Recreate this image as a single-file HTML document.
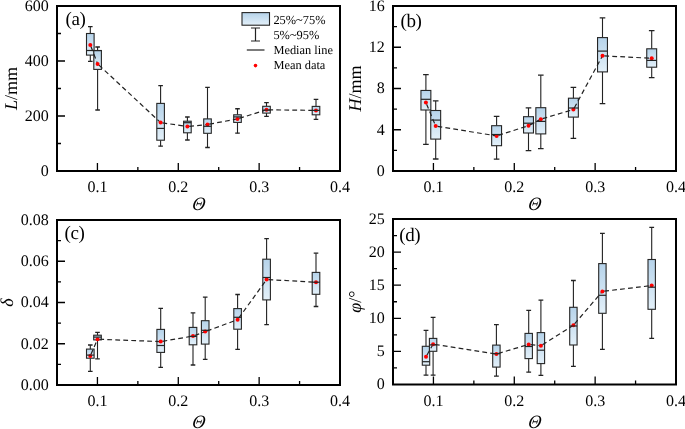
<!DOCTYPE html><html><head><meta charset="utf-8"><style>html,body{margin:0;padding:0;background:#fff;}svg{display:block;font-family:"Liberation Serif",serif;text-rendering:geometricPrecision;will-change:transform;}</style></head><body>
<svg width="685" height="429" viewBox="0 0 685 429">
<defs><linearGradient id="g" x1="0" y1="0" x2="0" y2="1"><stop offset="0" stop-color="#b6d3ea"/><stop offset="1" stop-color="#e3f0f9"/></linearGradient></defs>
<rect width="685" height="429" fill="#fff"/>
<g><path d="M90.3 26.7V33.5M90.3 55.1V61.4" stroke="#222" stroke-width="1.1" fill="none"/><path d="M88 26.7h4.6M88 61.4h4.6" stroke="#222" stroke-width="1.3" fill="none"/><rect x="86.5" y="33.5" width="7.6" height="21.6" fill="url(#g)" stroke="#252525" stroke-width="1.1"/><path d="M97.6 47V50.5M97.6 69.4V110" stroke="#222" stroke-width="1.1" fill="none"/><path d="M95.3 47h4.6M95.3 110h4.6" stroke="#222" stroke-width="1.3" fill="none"/><rect x="93.8" y="50.5" width="7.6" height="18.9" fill="url(#g)" stroke="#252525" stroke-width="1.1"/><path d="M160.6 85.6V103.4M160.6 140.2V146.2" stroke="#222" stroke-width="1.1" fill="none"/><path d="M158.3 85.6h4.6M158.3 146.2h4.6" stroke="#222" stroke-width="1.3" fill="none"/><rect x="156.8" y="103.4" width="7.6" height="36.8" fill="url(#g)" stroke="#252525" stroke-width="1.1"/><path d="M187.4 117V121.2M187.4 132.8V140" stroke="#222" stroke-width="1.1" fill="none"/><path d="M185.1 117h4.6M185.1 140h4.6" stroke="#222" stroke-width="1.3" fill="none"/><rect x="183.6" y="121.2" width="7.6" height="11.6" fill="url(#g)" stroke="#252525" stroke-width="1.1"/><path d="M207.5 87.3V118.9M207.5 133.3V147.5" stroke="#222" stroke-width="1.1" fill="none"/><path d="M205.2 87.3h4.6M205.2 147.5h4.6" stroke="#222" stroke-width="1.3" fill="none"/><rect x="203.7" y="118.9" width="7.6" height="14.4" fill="url(#g)" stroke="#252525" stroke-width="1.1"/><path d="M237.5 108.75V114.8M237.5 122.4V133.2" stroke="#222" stroke-width="1.1" fill="none"/><path d="M235.2 108.75h4.6M235.2 133.2h4.6" stroke="#222" stroke-width="1.3" fill="none"/><rect x="233.7" y="114.8" width="7.6" height="7.6" fill="url(#g)" stroke="#252525" stroke-width="1.1"/><path d="M266.5 102.6V106.3M266.5 113.1V116.3" stroke="#222" stroke-width="1.1" fill="none"/><path d="M264.2 102.6h4.6M264.2 116.3h4.6" stroke="#222" stroke-width="1.3" fill="none"/><rect x="262.7" y="106.3" width="7.6" height="6.8" fill="url(#g)" stroke="#252525" stroke-width="1.1"/><path d="M316 99.4V106.4M316 114.8V119.4" stroke="#222" stroke-width="1.1" fill="none"/><path d="M313.7 99.4h4.6M313.7 119.4h4.6" stroke="#222" stroke-width="1.3" fill="none"/><rect x="312.2" y="106.4" width="7.6" height="8.4" fill="url(#g)" stroke="#252525" stroke-width="1.1"/><path d="M90.95 46.58L97.6 63.9M98.92 65.13L160.6 122.6M162.38 122.86L187.4 126.5M189.19 126.32L207.5 124.5M209.27 124.17L237.5 118.9M239.22 118.36L266.5 109.8M268.3 109.82L316 110.4" fill="none" stroke="#222" stroke-width="1.2" stroke-dasharray="4.8 3.2"/><circle cx="90.3" cy="44.9" r="2" fill="#f00"/><circle cx="97.6" cy="63.9" r="2" fill="#f00"/><circle cx="160.6" cy="122.6" r="2" fill="#f00"/><circle cx="187.4" cy="126.5" r="2" fill="#f00"/><circle cx="207.5" cy="124.5" r="2" fill="#f00"/><circle cx="237.5" cy="118.9" r="2" fill="#f00"/><circle cx="266.5" cy="109.8" r="2" fill="#f00"/><circle cx="316" cy="110.4" r="2" fill="#f00"/><path d="M86.5 50.5h7.6" stroke="#252525" stroke-width="1.2"/><path d="M93.8 50.6h7.6" stroke="#252525" stroke-width="1.2"/><path d="M156.8 128.4h7.6" stroke="#252525" stroke-width="1.2"/><path d="M183.6 122.7h7.6" stroke="#252525" stroke-width="1.2"/><path d="M203.7 126.3h7.6" stroke="#252525" stroke-width="1.2"/><path d="M233.7 116.9h7.6" stroke="#252525" stroke-width="1.2"/><path d="M262.7 110.15h7.6" stroke="#252525" stroke-width="1.2"/><path d="M312.2 110.4h7.6" stroke="#252525" stroke-width="1.2"/><path d="M97.43 171v-8M137.86 171v-4M178.29 171v-8M218.71 171v-4M259.14 171v-8M299.57 171v-4M57 143.5h4M57 116h8M57 88.5h4M57 61h8M57 33.5h4" stroke="#000" stroke-width="1.3" fill="none"/><rect x="57" y="6" width="283" height="165" fill="none" stroke="#000" stroke-width="2"/><text x="97.43" y="192" font-size="16" text-anchor="middle">0.1</text><text x="178.29" y="192" font-size="16" text-anchor="middle">0.2</text><text x="259.14" y="192" font-size="16" text-anchor="middle">0.3</text><text x="340" y="192" font-size="16" text-anchor="middle">0.4</text><text x="48.7" y="175.9" font-size="16" text-anchor="end">0</text><text x="48.7" y="120.9" font-size="16" text-anchor="end">200</text><text x="48.7" y="65.9" font-size="16" text-anchor="end">400</text><text x="48.7" y="10.9" font-size="16" text-anchor="end">600</text><text transform="translate(197.9 210.1) skewX(-9) scale(0.94 1)" font-size="19" font-style="italic" text-anchor="middle">&#920;</text><text transform="translate(16.8 88.5) rotate(-90)" font-size="18" text-anchor="middle"><tspan font-style="italic">L</tspan>/mm</text><text x="65.5" y="25.4" font-size="19" letter-spacing="-0.4">(a)</text></g>
<g><path d="M425.9 74.7V90.45M425.9 110V144.3" stroke="#222" stroke-width="1.1" fill="none"/><path d="M423.1 74.7h5.6M423.1 144.3h5.6" stroke="#222" stroke-width="1.3" fill="none"/><rect x="420.95" y="90.45" width="9.9" height="19.55" fill="url(#g)" stroke="#252525" stroke-width="1.1"/><path d="M435.7 100.9V110.5M435.7 139.1V159" stroke="#222" stroke-width="1.1" fill="none"/><path d="M432.9 100.9h5.6M432.9 159h5.6" stroke="#222" stroke-width="1.3" fill="none"/><rect x="430.75" y="110.5" width="9.9" height="28.6" fill="url(#g)" stroke="#252525" stroke-width="1.1"/><path d="M496.6 116.3V125.7M496.6 145.7V159.2" stroke="#222" stroke-width="1.1" fill="none"/><path d="M493.8 116.3h5.6M493.8 159.2h5.6" stroke="#222" stroke-width="1.3" fill="none"/><rect x="491.65" y="125.7" width="9.9" height="20" fill="url(#g)" stroke="#252525" stroke-width="1.1"/><path d="M528.5 107.9V116.7M528.5 133V150.7" stroke="#222" stroke-width="1.1" fill="none"/><path d="M525.7 107.9h5.6M525.7 150.7h5.6" stroke="#222" stroke-width="1.3" fill="none"/><rect x="523.55" y="116.7" width="9.9" height="16.3" fill="url(#g)" stroke="#252525" stroke-width="1.1"/><path d="M540.8 75.2V107.7M540.8 133.9V148.6" stroke="#222" stroke-width="1.1" fill="none"/><path d="M538 75.2h5.6M538 148.6h5.6" stroke="#222" stroke-width="1.3" fill="none"/><rect x="535.85" y="107.7" width="9.9" height="26.2" fill="url(#g)" stroke="#252525" stroke-width="1.1"/><path d="M573.4 87.3V98.2M573.4 117.1V138.3" stroke="#222" stroke-width="1.1" fill="none"/><path d="M570.6 87.3h5.6M570.6 138.3h5.6" stroke="#222" stroke-width="1.3" fill="none"/><rect x="568.45" y="98.2" width="9.9" height="18.9" fill="url(#g)" stroke="#252525" stroke-width="1.1"/><path d="M602.5 17.9V37.6M602.5 71.9V103.7" stroke="#222" stroke-width="1.1" fill="none"/><path d="M599.7 17.9h5.6M599.7 103.7h5.6" stroke="#222" stroke-width="1.3" fill="none"/><rect x="597.55" y="37.6" width="9.9" height="34.3" fill="url(#g)" stroke="#252525" stroke-width="1.1"/><path d="M651.7 30.6V48.8M651.7 67.2V77.7" stroke="#222" stroke-width="1.1" fill="none"/><path d="M648.9 30.6h5.6M648.9 77.7h5.6" stroke="#222" stroke-width="1.3" fill="none"/><rect x="646.75" y="48.8" width="9.9" height="18.4" fill="url(#g)" stroke="#252525" stroke-width="1.1"/><path d="M426.59 104.16L435.7 126.1M437.48 126.39L496.6 135.9M498.31 135.35L528.5 125.7M530.09 124.86L540.8 119.2M542.53 118.69L573.4 109.5M574.26 107.92L602.5 55.8M604.3 55.89L651.7 58.3" fill="none" stroke="#222" stroke-width="1.2" stroke-dasharray="4.8 3.2"/><circle cx="425.9" cy="102.5" r="2" fill="#f00"/><circle cx="435.7" cy="126.1" r="2" fill="#f00"/><circle cx="496.6" cy="135.9" r="2" fill="#f00"/><circle cx="528.5" cy="125.7" r="2" fill="#f00"/><circle cx="540.8" cy="119.2" r="2" fill="#f00"/><circle cx="573.4" cy="109.5" r="2" fill="#f00"/><circle cx="602.5" cy="55.8" r="2" fill="#f00"/><circle cx="651.7" cy="58.3" r="2" fill="#f00"/><path d="M420.95 99.3h9.9" stroke="#252525" stroke-width="1.2"/><path d="M430.75 120.1h9.9" stroke="#252525" stroke-width="1.2"/><path d="M491.65 134.5h9.9" stroke="#252525" stroke-width="1.2"/><path d="M523.55 123.2h9.9" stroke="#252525" stroke-width="1.2"/><path d="M535.85 121.4h9.9" stroke="#252525" stroke-width="1.2"/><path d="M568.45 108h9.9" stroke="#252525" stroke-width="1.2"/><path d="M597.55 51.1h9.9" stroke="#252525" stroke-width="1.2"/><path d="M646.75 60.4h9.9" stroke="#252525" stroke-width="1.2"/><path d="M433.43 171v-8M473.86 171v-4M514.29 171v-8M554.71 171v-4M595.14 171v-8M635.57 171v-4M393 150.38h4M393 129.75h8M393 109.12h4M393 88.5h8M393 67.88h4M393 47.25h8M393 26.62h4" stroke="#000" stroke-width="1.3" fill="none"/><rect x="393" y="6" width="283" height="165" fill="none" stroke="#000" stroke-width="2"/><text x="433.43" y="192" font-size="16" text-anchor="middle">0.1</text><text x="514.29" y="192" font-size="16" text-anchor="middle">0.2</text><text x="595.14" y="192" font-size="16" text-anchor="middle">0.3</text><text x="676" y="192" font-size="16" text-anchor="middle">0.4</text><text x="384.7" y="175.9" font-size="16" text-anchor="end">0</text><text x="384.7" y="134.65" font-size="16" text-anchor="end">4</text><text x="384.7" y="93.4" font-size="16" text-anchor="end">8</text><text x="384.7" y="52.15" font-size="16" text-anchor="end">12</text><text x="384.7" y="10.9" font-size="16" text-anchor="end">16</text><text transform="translate(533.9 210.1) skewX(-9) scale(0.94 1)" font-size="19" font-style="italic" text-anchor="middle">&#920;</text><text transform="translate(360.9 88.5) rotate(-90)" font-size="18" text-anchor="middle"><tspan font-style="italic">H</tspan>/mm</text><text x="400.5" y="26.6" font-size="19" letter-spacing="-0.4">(b)</text></g>
<g><path d="M90.3 345V349.1M90.3 358.2V371.3" stroke="#222" stroke-width="1.1" fill="none"/><path d="M88 345h4.6M88 371.3h4.6" stroke="#222" stroke-width="1.3" fill="none"/><rect x="86.5" y="349.1" width="7.6" height="9.1" fill="url(#g)" stroke="#252525" stroke-width="1.1"/><path d="M97.5 332.4V335.2M97.5 339.9V358.8" stroke="#222" stroke-width="1.1" fill="none"/><path d="M95.2 332.4h4.6M95.2 358.8h4.6" stroke="#222" stroke-width="1.3" fill="none"/><rect x="93.7" y="335.2" width="7.6" height="4.7" fill="url(#g)" stroke="#252525" stroke-width="1.1"/><path d="M160.7 308.4V329.4M160.7 352.4V367.3" stroke="#222" stroke-width="1.1" fill="none"/><path d="M158.4 308.4h4.6M158.4 367.3h4.6" stroke="#222" stroke-width="1.3" fill="none"/><rect x="156.9" y="329.4" width="7.6" height="23" fill="url(#g)" stroke="#252525" stroke-width="1.1"/><path d="M193 312.9V327.4M193 344.8V365" stroke="#222" stroke-width="1.1" fill="none"/><path d="M190.7 312.9h4.6M190.7 365h4.6" stroke="#222" stroke-width="1.3" fill="none"/><rect x="189.2" y="327.4" width="7.6" height="17.4" fill="url(#g)" stroke="#252525" stroke-width="1.1"/><path d="M205.2 297.1V320.7M205.2 344.1V359.4" stroke="#222" stroke-width="1.1" fill="none"/><path d="M202.9 297.1h4.6M202.9 359.4h4.6" stroke="#222" stroke-width="1.3" fill="none"/><rect x="201.4" y="320.7" width="7.6" height="23.4" fill="url(#g)" stroke="#252525" stroke-width="1.1"/><path d="M237.6 294.5V308.6M237.6 329.2V349.4" stroke="#222" stroke-width="1.1" fill="none"/><path d="M235.3 294.5h4.6M235.3 349.4h4.6" stroke="#222" stroke-width="1.3" fill="none"/><rect x="233.8" y="308.6" width="7.6" height="20.6" fill="url(#g)" stroke="#252525" stroke-width="1.1"/><path d="M266.6 238.7V259.2M266.6 299.9V324.6" stroke="#222" stroke-width="1.1" fill="none"/><path d="M264.3 238.7h4.6M264.3 324.6h4.6" stroke="#222" stroke-width="1.3" fill="none"/><rect x="262.8" y="259.2" width="7.6" height="40.7" fill="url(#g)" stroke="#252525" stroke-width="1.1"/><path d="M316 253.2V272.4M316 294.3V306.5" stroke="#222" stroke-width="1.1" fill="none"/><path d="M313.7 253.2h4.6M313.7 306.5h4.6" stroke="#222" stroke-width="1.3" fill="none"/><rect x="312.2" y="272.4" width="7.6" height="21.9" fill="url(#g)" stroke="#252525" stroke-width="1.1"/><path d="M91.01 354.25L97.5 339.2M99.3 339.27L160.7 341.6M162.47 341.3L193 336.1M194.69 335.48L205.2 331.6M206.89 330.98L237.6 319.7M238.65 318.24L266.6 279.5M268.4 279.6L316 282.2" fill="none" stroke="#222" stroke-width="1.2" stroke-dasharray="4.8 3.2"/><circle cx="90.3" cy="355.9" r="2" fill="#f00"/><circle cx="97.5" cy="339.2" r="2" fill="#f00"/><circle cx="160.7" cy="341.6" r="2" fill="#f00"/><circle cx="193" cy="336.1" r="2" fill="#f00"/><circle cx="205.2" cy="331.6" r="2" fill="#f00"/><circle cx="237.6" cy="319.7" r="2" fill="#f00"/><circle cx="266.6" cy="279.5" r="2" fill="#f00"/><circle cx="316" cy="282.2" r="2" fill="#f00"/><path d="M86.5 355.1h7.6" stroke="#252525" stroke-width="1.2"/><path d="M93.7 337.1h7.6" stroke="#252525" stroke-width="1.2"/><path d="M156.9 345.5h7.6" stroke="#252525" stroke-width="1.2"/><path d="M189.2 336.4h7.6" stroke="#252525" stroke-width="1.2"/><path d="M201.4 330.3h7.6" stroke="#252525" stroke-width="1.2"/><path d="M233.8 317.3h7.6" stroke="#252525" stroke-width="1.2"/><path d="M262.8 277.5h7.6" stroke="#252525" stroke-width="1.2"/><path d="M312.2 282.2h7.6" stroke="#252525" stroke-width="1.2"/><path d="M97.43 385v-8M137.86 385v-4M178.29 385v-8M218.71 385v-4M259.14 385v-8M299.57 385v-4M57 364.38h4M57 343.75h8M57 323.12h4M57 302.5h8M57 281.88h4M57 261.25h8M57 240.62h4" stroke="#000" stroke-width="1.3" fill="none"/><rect x="57" y="220" width="283" height="165" fill="none" stroke="#000" stroke-width="2"/><text x="97.43" y="406" font-size="16" text-anchor="middle">0.1</text><text x="178.29" y="406" font-size="16" text-anchor="middle">0.2</text><text x="259.14" y="406" font-size="16" text-anchor="middle">0.3</text><text x="340" y="406" font-size="16" text-anchor="middle">0.4</text><text x="48.7" y="389.9" font-size="16" text-anchor="end">0.00</text><text x="48.7" y="348.65" font-size="16" text-anchor="end">0.02</text><text x="48.7" y="307.4" font-size="16" text-anchor="end">0.04</text><text x="48.7" y="266.15" font-size="16" text-anchor="end">0.06</text><text x="48.7" y="224.9" font-size="16" text-anchor="end">0.08</text><text transform="translate(197.9 427.9) skewX(-9) scale(0.94 1)" font-size="19" font-style="italic" text-anchor="middle">&#920;</text><text transform="translate(12.8 302.5) rotate(-90)" font-size="18" text-anchor="middle"><tspan font-style="italic">&#948;</tspan></text><text x="64.5" y="239.3" font-size="19" letter-spacing="-0.4">(c)</text></g>
<g><path d="M426 330.4V346.3M426 365.2V375.2" stroke="#222" stroke-width="1.1" fill="none"/><path d="M423.6 330.4h4.8M423.6 375.2h4.8" stroke="#222" stroke-width="1.3" fill="none"/><rect x="422.3" y="346.3" width="7.4" height="18.9" fill="url(#g)" stroke="#252525" stroke-width="1.1"/><path d="M433.1 317.4V338.4M433.1 351.3V375.2" stroke="#222" stroke-width="1.1" fill="none"/><path d="M430.7 317.4h4.8M430.7 375.2h4.8" stroke="#222" stroke-width="1.3" fill="none"/><rect x="429.4" y="338.4" width="7.4" height="12.9" fill="url(#g)" stroke="#252525" stroke-width="1.1"/><path d="M496.4 324.7V345.1M496.4 367.1V376.1" stroke="#222" stroke-width="1.1" fill="none"/><path d="M494 324.7h4.8M494 376.1h4.8" stroke="#222" stroke-width="1.3" fill="none"/><rect x="492.7" y="345.1" width="7.4" height="22" fill="url(#g)" stroke="#252525" stroke-width="1.1"/><path d="M528.7 310.3V333.4M528.7 358.6V372.2" stroke="#222" stroke-width="1.1" fill="none"/><path d="M526.3 310.3h4.8M526.3 372.2h4.8" stroke="#222" stroke-width="1.3" fill="none"/><rect x="525" y="333.4" width="7.4" height="25.2" fill="url(#g)" stroke="#252525" stroke-width="1.1"/><path d="M540.9 300.1V332.6M540.9 363.6V375.3" stroke="#222" stroke-width="1.1" fill="none"/><path d="M538.5 300.1h4.8M538.5 375.3h4.8" stroke="#222" stroke-width="1.3" fill="none"/><rect x="537.2" y="332.6" width="7.4" height="31" fill="url(#g)" stroke="#252525" stroke-width="1.1"/><path d="M573.4 280.5V307.3M573.4 345V366.4" stroke="#222" stroke-width="1.1" fill="none"/><path d="M571 280.5h4.8M571 366.4h4.8" stroke="#222" stroke-width="1.3" fill="none"/><rect x="569.7" y="307.3" width="7.4" height="37.7" fill="url(#g)" stroke="#252525" stroke-width="1.1"/><path d="M602.4 233.3V263.6M602.4 313.3V349.4" stroke="#222" stroke-width="1.1" fill="none"/><path d="M600 233.3h4.8M600 349.4h4.8" stroke="#222" stroke-width="1.3" fill="none"/><rect x="598.7" y="263.6" width="7.4" height="49.7" fill="url(#g)" stroke="#252525" stroke-width="1.1"/><path d="M651.7 227.3V259.5M651.7 309.3V338.3" stroke="#222" stroke-width="1.1" fill="none"/><path d="M649.3 227.3h4.8M649.3 338.3h4.8" stroke="#222" stroke-width="1.3" fill="none"/><rect x="648" y="259.5" width="7.4" height="49.8" fill="url(#g)" stroke="#252525" stroke-width="1.1"/><path d="M426.88 355.23L433.1 344.2M434.88 344.48L496.4 354M498.13 353.49L528.7 344.4M530.49 344.61L540.9 345.8M542.42 344.84L573.4 325.2M574.57 323.83L602.4 291.4M604.19 291.19L651.7 285.6" fill="none" stroke="#222" stroke-width="1.2" stroke-dasharray="4.8 3.2"/><circle cx="426" cy="356.8" r="2" fill="#f00"/><circle cx="433.1" cy="344.2" r="2" fill="#f00"/><circle cx="496.4" cy="354" r="2" fill="#f00"/><circle cx="528.7" cy="344.4" r="2" fill="#f00"/><circle cx="540.9" cy="345.8" r="2" fill="#f00"/><circle cx="573.4" cy="325.2" r="2" fill="#f00"/><circle cx="602.4" cy="291.4" r="2" fill="#f00"/><circle cx="651.7" cy="285.6" r="2" fill="#f00"/><path d="M422.3 361.7h7.4" stroke="#252525" stroke-width="1.2"/><path d="M429.4 344.9h7.4" stroke="#252525" stroke-width="1.2"/><path d="M492.7 353.7h7.4" stroke="#252525" stroke-width="1.2"/><path d="M525 346.5h7.4" stroke="#252525" stroke-width="1.2"/><path d="M537.2 350.2h7.4" stroke="#252525" stroke-width="1.2"/><path d="M569.7 326h7.4" stroke="#252525" stroke-width="1.2"/><path d="M598.7 295.3h7.4" stroke="#252525" stroke-width="1.2"/><path d="M648 287.2h7.4" stroke="#252525" stroke-width="1.2"/><path d="M433.43 384.5v-8M473.86 384.5v-4M514.29 384.5v-8M554.71 384.5v-4M595.14 384.5v-8M635.57 384.5v-4M393 367.95h4M393 351.4h8M393 334.85h4M393 318.3h8M393 301.75h4M393 285.2h8M393 268.65h4M393 252.1h8M393 235.55h4" stroke="#000" stroke-width="1.3" fill="none"/><rect x="393" y="219" width="283" height="165.5" fill="none" stroke="#000" stroke-width="2"/><text x="433.43" y="405.5" font-size="16" text-anchor="middle">0.1</text><text x="514.29" y="405.5" font-size="16" text-anchor="middle">0.2</text><text x="595.14" y="405.5" font-size="16" text-anchor="middle">0.3</text><text x="676" y="405.5" font-size="16" text-anchor="middle">0.4</text><text x="384.7" y="389.4" font-size="16" text-anchor="end">0</text><text x="384.7" y="356.3" font-size="16" text-anchor="end">5</text><text x="384.7" y="323.2" font-size="16" text-anchor="end">10</text><text x="384.7" y="290.1" font-size="16" text-anchor="end">15</text><text x="384.7" y="257" font-size="16" text-anchor="end">20</text><text x="384.7" y="223.9" font-size="16" text-anchor="end">25</text><text transform="translate(533.9 427.9) skewX(-9) scale(0.94 1)" font-size="19" font-style="italic" text-anchor="middle">&#920;</text><text transform="translate(360.5 301.75) rotate(-90)" font-size="18" text-anchor="middle"><tspan font-style="italic">&#966;</tspan>/&#176;</text><text x="399.3" y="240.8" font-size="19" letter-spacing="-0.4">(d)</text></g>
<g><rect x="242" y="12.6" width="27.5" height="12.6" fill="url(#g)" stroke="#252525" stroke-width="1.1"/><path d="M255.5 28V41M251 28h9M251 41h9" stroke="#222" stroke-width="1.2" fill="none"/><path d="M246.8 50H264.5" stroke="#222" stroke-width="1.2"/><circle cx="255.5" cy="65.6" r="1.8" fill="#f00"/><text x="273.4" y="23.9" font-size="12.4">25%~75%</text><text x="273.4" y="38.6" font-size="12.4">5%~95%</text><text x="273.4" y="54.2" font-size="12.4">Median line</text><text x="273.4" y="69.4" font-size="12.4">Mean data</text></g>
</svg></body></html>
